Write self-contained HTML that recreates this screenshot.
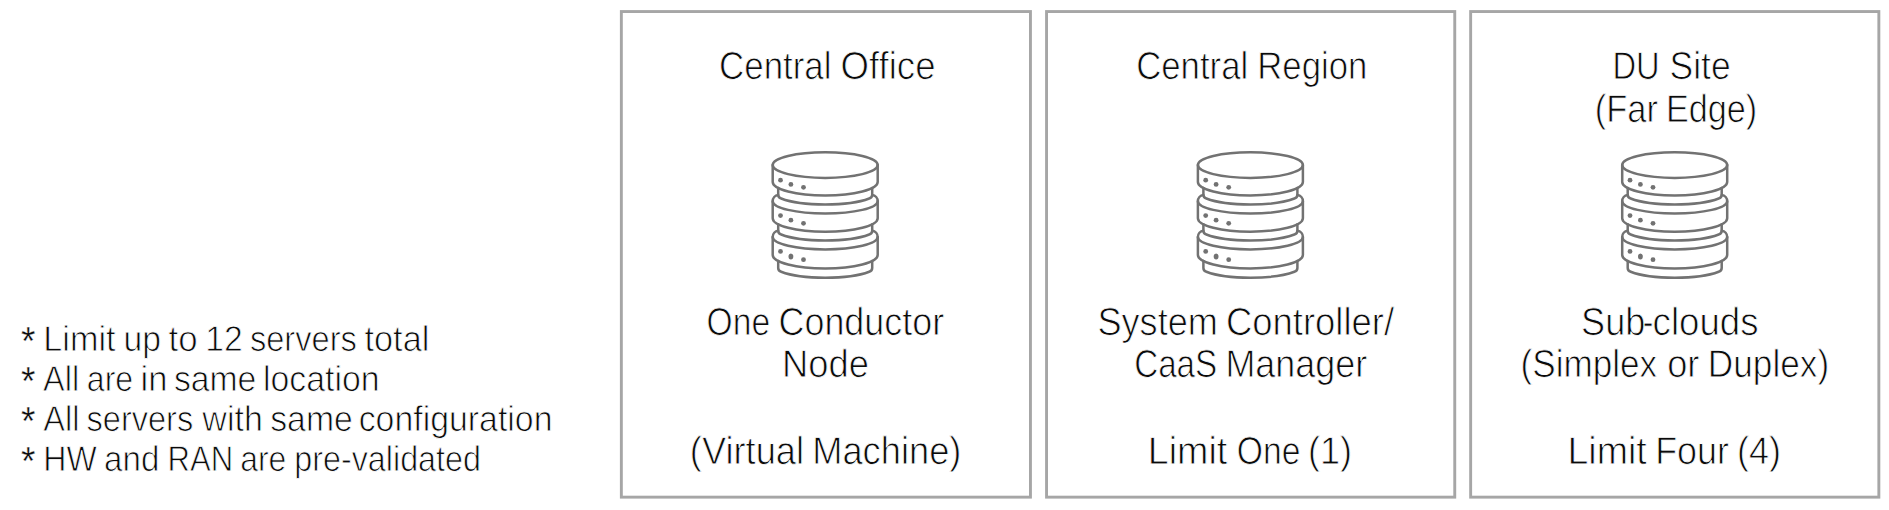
<!DOCTYPE html><html><head><meta charset="utf-8"><title>Deployment limits</title><style>html,body{margin:0;padding:0;background:#fff;}body{width:1889px;height:510px;overflow:hidden;}svg{display:block;}text{stroke:#fff;stroke-width:0.85;text-rendering:geometricPrecision;font-family:'Liberation Sans', sans-serif;fill:#0a0a0a;white-space:pre;}</style></head><body>
<svg width="1889" height="510" viewBox="0 0 1889 510">
<rect width="1889" height="510" fill="#fff"/>
<rect x="621.35" y="11.55" width="409.10" height="485.60" fill="none" stroke="#a6a6a6" stroke-width="2.9"/>
<rect x="1046.55" y="11.55" width="408.20" height="485.60" fill="none" stroke="#a6a6a6" stroke-width="2.9"/>
<rect x="1470.65" y="11.55" width="408.20" height="485.60" fill="none" stroke="#a6a6a6" stroke-width="2.9"/>
<g transform="translate(0 0)" fill="none" stroke="#727272" stroke-width="2.5" stroke-linecap="round" stroke-linejoin="round"><ellipse cx="825.2" cy="165.12" rx="52.5" ry="12.78"/><path d="M772.70,165.12V182.00A52.5,13.5 0 0 0 877.70,182.00V165.12"/><path d="M778.20,188.02V194.84Q778.20,197.74 781.20,198.54A52.5,13.1 0 0 0 869.20,198.54Q872.20,197.74 872.20,194.84V188.02"/><ellipse cx="780.5" cy="180.2" rx="2.4" ry="2.4" fill="#727272" stroke="none"/><ellipse cx="790.9" cy="184.4" rx="2.4" ry="2.4" fill="#727272" stroke="none"/><ellipse cx="803.5" cy="187.3" rx="2.4" ry="2.4" fill="#727272" stroke="none"/><path d="M778.20,194.90A6.3,6.3 0 0 0 772.70,201.20V218.20A52.5,13.5 0 0 0 877.70,218.20V201.20A6.3,6.3 0 0 0 872.20,194.90"/><path d="M772.70,201.20A52.5,12.3 0 0 0 877.70,201.20"/><path d="M778.20,224.22V230.84Q778.20,233.74 781.20,234.54A52.5,13.1 0 0 0 869.20,234.54Q872.20,233.74 872.20,230.84V224.22"/><ellipse cx="780.5" cy="215.6" rx="2.4" ry="2.4" fill="#727272" stroke="none"/><ellipse cx="790.9" cy="220.2" rx="2.4" ry="2.4" fill="#727272" stroke="none"/><ellipse cx="803.5" cy="223.3" rx="2.4" ry="2.4" fill="#727272" stroke="none"/><path d="M778.20,230.80A6.3,6.3 0 0 0 772.70,237.10V255.00A52.5,13.5 0 0 0 877.70,255.00V237.10A6.3,6.3 0 0 0 872.20,230.80"/><path d="M772.70,237.10A52.5,12.3 0 0 0 877.70,237.10"/><path d="M778.20,261.02V268.04Q778.20,270.94 781.20,271.74A52.5,13.1 0 0 0 869.20,271.74Q872.20,270.94 872.20,268.04V261.02"/><ellipse cx="780.5" cy="251.4" rx="2.4" ry="2.4" fill="#727272" stroke="none"/><ellipse cx="790.9" cy="256.4" rx="2.4" ry="3.0" fill="#727272" stroke="none"/><ellipse cx="803.5" cy="259.7" rx="2.4" ry="2.4" fill="#727272" stroke="none"/></g>
<g transform="translate(425.2 0)" fill="none" stroke="#727272" stroke-width="2.5" stroke-linecap="round" stroke-linejoin="round"><ellipse cx="825.2" cy="165.12" rx="52.5" ry="12.78"/><path d="M772.70,165.12V182.00A52.5,13.5 0 0 0 877.70,182.00V165.12"/><path d="M778.20,188.02V194.84Q778.20,197.74 781.20,198.54A52.5,13.1 0 0 0 869.20,198.54Q872.20,197.74 872.20,194.84V188.02"/><ellipse cx="780.5" cy="180.2" rx="2.4" ry="2.4" fill="#727272" stroke="none"/><ellipse cx="790.9" cy="184.4" rx="2.4" ry="2.4" fill="#727272" stroke="none"/><ellipse cx="803.5" cy="187.3" rx="2.4" ry="2.4" fill="#727272" stroke="none"/><path d="M778.20,194.90A6.3,6.3 0 0 0 772.70,201.20V218.20A52.5,13.5 0 0 0 877.70,218.20V201.20A6.3,6.3 0 0 0 872.20,194.90"/><path d="M772.70,201.20A52.5,12.3 0 0 0 877.70,201.20"/><path d="M778.20,224.22V230.84Q778.20,233.74 781.20,234.54A52.5,13.1 0 0 0 869.20,234.54Q872.20,233.74 872.20,230.84V224.22"/><ellipse cx="780.5" cy="215.6" rx="2.4" ry="2.4" fill="#727272" stroke="none"/><ellipse cx="790.9" cy="220.2" rx="2.4" ry="2.4" fill="#727272" stroke="none"/><ellipse cx="803.5" cy="223.3" rx="2.4" ry="2.4" fill="#727272" stroke="none"/><path d="M778.20,230.80A6.3,6.3 0 0 0 772.70,237.10V255.00A52.5,13.5 0 0 0 877.70,255.00V237.10A6.3,6.3 0 0 0 872.20,230.80"/><path d="M772.70,237.10A52.5,12.3 0 0 0 877.70,237.10"/><path d="M778.20,261.02V268.04Q778.20,270.94 781.20,271.74A52.5,13.1 0 0 0 869.20,271.74Q872.20,270.94 872.20,268.04V261.02"/><ellipse cx="780.5" cy="251.4" rx="2.4" ry="2.4" fill="#727272" stroke="none"/><ellipse cx="790.9" cy="256.4" rx="2.4" ry="3.0" fill="#727272" stroke="none"/><ellipse cx="803.5" cy="259.7" rx="2.4" ry="2.4" fill="#727272" stroke="none"/></g>
<g transform="translate(849.5 0)" fill="none" stroke="#727272" stroke-width="2.5" stroke-linecap="round" stroke-linejoin="round"><ellipse cx="825.2" cy="165.12" rx="52.5" ry="12.78"/><path d="M772.70,165.12V182.00A52.5,13.5 0 0 0 877.70,182.00V165.12"/><path d="M778.20,188.02V194.84Q778.20,197.74 781.20,198.54A52.5,13.1 0 0 0 869.20,198.54Q872.20,197.74 872.20,194.84V188.02"/><ellipse cx="780.5" cy="180.2" rx="2.4" ry="2.4" fill="#727272" stroke="none"/><ellipse cx="790.9" cy="184.4" rx="2.4" ry="2.4" fill="#727272" stroke="none"/><ellipse cx="803.5" cy="187.3" rx="2.4" ry="2.4" fill="#727272" stroke="none"/><path d="M778.20,194.90A6.3,6.3 0 0 0 772.70,201.20V218.20A52.5,13.5 0 0 0 877.70,218.20V201.20A6.3,6.3 0 0 0 872.20,194.90"/><path d="M772.70,201.20A52.5,12.3 0 0 0 877.70,201.20"/><path d="M778.20,224.22V230.84Q778.20,233.74 781.20,234.54A52.5,13.1 0 0 0 869.20,234.54Q872.20,233.74 872.20,230.84V224.22"/><ellipse cx="780.5" cy="215.6" rx="2.4" ry="2.4" fill="#727272" stroke="none"/><ellipse cx="790.9" cy="220.2" rx="2.4" ry="2.4" fill="#727272" stroke="none"/><ellipse cx="803.5" cy="223.3" rx="2.4" ry="2.4" fill="#727272" stroke="none"/><path d="M778.20,230.80A6.3,6.3 0 0 0 772.70,237.10V255.00A52.5,13.5 0 0 0 877.70,255.00V237.10A6.3,6.3 0 0 0 872.20,230.80"/><path d="M772.70,237.10A52.5,12.3 0 0 0 877.70,237.10"/><path d="M778.20,261.02V268.04Q778.20,270.94 781.20,271.74A52.5,13.1 0 0 0 869.20,271.74Q872.20,270.94 872.20,268.04V261.02"/><ellipse cx="780.5" cy="251.4" rx="2.4" ry="2.4" fill="#727272" stroke="none"/><ellipse cx="790.9" cy="256.4" rx="2.4" ry="3.0" fill="#727272" stroke="none"/><ellipse cx="803.5" cy="259.7" rx="2.4" ry="2.4" fill="#727272" stroke="none"/></g>
<text y="351" font-size="35.83"><tspan x="21.12" textLength="14.42" lengthAdjust="spacingAndGlyphs" y="355" font-size="40.74" style="stroke-width:0.4">*</tspan> <tspan x="43.32" textLength="72.22" lengthAdjust="spacingAndGlyphs" y="351">Limit</tspan> <tspan x="123.44" textLength="37.50" lengthAdjust="spacingAndGlyphs">up</tspan> <tspan x="168.62" textLength="29.05" lengthAdjust="spacingAndGlyphs">to</tspan> <tspan x="205.34" textLength="37.50" lengthAdjust="spacingAndGlyphs">12</tspan> <tspan x="249.91" textLength="106.89" lengthAdjust="spacingAndGlyphs">servers</tspan> <tspan x="364.52" textLength="64.83" lengthAdjust="spacingAndGlyphs">total</tspan></text>
<text y="391" font-size="35.83"><tspan x="21.12" textLength="14.42" lengthAdjust="spacingAndGlyphs" y="395" font-size="40.74" style="stroke-width:0.4">*</tspan> <tspan x="43.12" textLength="36.13" lengthAdjust="spacingAndGlyphs" y="391">All</tspan> <tspan x="86.83" textLength="46.37" lengthAdjust="spacingAndGlyphs">are</tspan> <tspan x="140.49" textLength="26.94" lengthAdjust="spacingAndGlyphs">in</tspan> <tspan x="173.88" textLength="82.46" lengthAdjust="spacingAndGlyphs">same</tspan> <tspan x="262.94" textLength="116.66" lengthAdjust="spacingAndGlyphs">location</tspan></text>
<text y="431" font-size="35.83"><tspan x="21.12" textLength="14.42" lengthAdjust="spacingAndGlyphs" y="435" font-size="40.74" style="stroke-width:0.4">*</tspan> <tspan x="43.23" textLength="36.23" lengthAdjust="spacingAndGlyphs" y="431">All</tspan> <tspan x="86.52" textLength="106.69" lengthAdjust="spacingAndGlyphs">servers</tspan> <tspan x="202.37" textLength="60.43" lengthAdjust="spacingAndGlyphs">with</tspan> <tspan x="270.28" textLength="82.46" lengthAdjust="spacingAndGlyphs">same</tspan> <tspan x="358.68" textLength="193.81" lengthAdjust="spacingAndGlyphs">configuration</tspan></text>
<text y="471" font-size="35.83"><tspan x="21.12" textLength="14.42" lengthAdjust="spacingAndGlyphs" y="475" font-size="40.74" style="stroke-width:0.4">*</tspan> <tspan x="43.23" textLength="53.48" lengthAdjust="spacingAndGlyphs" y="471">HW</tspan> <tspan x="104.10" textLength="55.25" lengthAdjust="spacingAndGlyphs">and</tspan> <tspan x="167.49" textLength="65.58" lengthAdjust="spacingAndGlyphs">RAN</tspan> <tspan x="240.24" textLength="46.06" lengthAdjust="spacingAndGlyphs">are</tspan> <tspan x="294.22" textLength="186.79" lengthAdjust="spacingAndGlyphs">pre-validated</tspan></text>
<text y="79" font-size="38.89"><tspan x="719.03" textLength="112.52" lengthAdjust="spacingAndGlyphs">Central</tspan> <tspan x="840.58" textLength="94.92" lengthAdjust="spacingAndGlyphs">Office</tspan></text>
<text y="335" font-size="38.89"><tspan x="706.56" textLength="63.52" lengthAdjust="spacingAndGlyphs">One</tspan> <tspan x="778.50" textLength="165.62" lengthAdjust="spacingAndGlyphs">Conductor</tspan></text>
<text y="377" font-size="38.89"><tspan x="782.02" textLength="86.87" lengthAdjust="spacingAndGlyphs">Node</tspan></text>
<text y="464" font-size="38.89"><tspan x="689.86" textLength="114.14" lengthAdjust="spacingAndGlyphs">(Virtual</tspan> <tspan x="812.23" textLength="149.16" lengthAdjust="spacingAndGlyphs">Machine)</tspan></text>
<text y="79" font-size="38.89"><tspan x="1136.13" textLength="112.11" lengthAdjust="spacingAndGlyphs">Central</tspan> <tspan x="1257.24" textLength="110.08" lengthAdjust="spacingAndGlyphs">Region</tspan></text>
<text y="335" font-size="38.89"><tspan x="1097.40" textLength="120.50" lengthAdjust="spacingAndGlyphs">System</tspan> <tspan x="1225.89" textLength="168.20" lengthAdjust="spacingAndGlyphs">Controller/</tspan></text>
<text y="377" font-size="38.89"><tspan x="1134.17" textLength="83.10" lengthAdjust="spacingAndGlyphs">CaaS</tspan> <tspan x="1225.45" textLength="141.77" lengthAdjust="spacingAndGlyphs">Manager</tspan></text>
<text y="464" font-size="38.89"><tspan x="1147.82" textLength="79.46" lengthAdjust="spacingAndGlyphs">Limit</tspan> <tspan x="1236.86" textLength="63.62" lengthAdjust="spacingAndGlyphs">One</tspan> <tspan x="1308.07" textLength="44.00" lengthAdjust="spacingAndGlyphs">(1)</tspan></text>
<text y="79" font-size="38.89"><tspan x="1612.50" textLength="47.22" lengthAdjust="spacingAndGlyphs">DU</tspan> <tspan x="1669.51" textLength="61.14" lengthAdjust="spacingAndGlyphs">Site</tspan></text>
<text y="122" font-size="38.89"><tspan x="1594.65" textLength="63.28" lengthAdjust="spacingAndGlyphs">(Far</tspan> <tspan x="1665.88" textLength="91.41" lengthAdjust="spacingAndGlyphs">Edge)</tspan></text>
<text y="335" font-size="38.89"><tspan x="1581.10" textLength="64.18" lengthAdjust="spacingAndGlyphs">Sub</tspan><tspan x="1642.80" textLength="10.65" lengthAdjust="spacingAndGlyphs">-</tspan><tspan x="1652.58" textLength="105.90" lengthAdjust="spacingAndGlyphs">clouds</tspan></text>
<text y="377" font-size="38.89"><tspan x="1520.62" textLength="136.55" lengthAdjust="spacingAndGlyphs">(Simplex</tspan> <tspan x="1667.19" textLength="32.23" lengthAdjust="spacingAndGlyphs">or</tspan> <tspan x="1707.81" textLength="121.33" lengthAdjust="spacingAndGlyphs">Duplex)</tspan></text>
<text y="464" font-size="38.89"><tspan x="1567.43" textLength="79.25" lengthAdjust="spacingAndGlyphs">Limit</tspan> <tspan x="1655.16" textLength="73.77" lengthAdjust="spacingAndGlyphs">Four</tspan> <tspan x="1737.07" textLength="44.00" lengthAdjust="spacingAndGlyphs">(4)</tspan></text>
</svg></body></html>
